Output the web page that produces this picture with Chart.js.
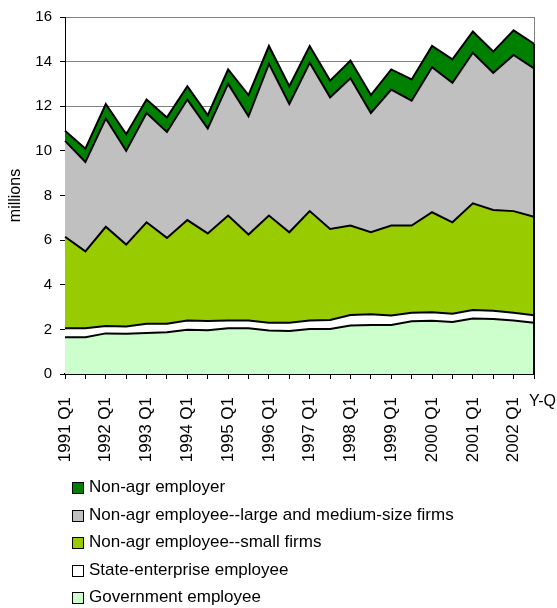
<!DOCTYPE html>
<html>
<head>
<meta charset="utf-8">
<script src="https://cdn.jsdelivr.net/npm/chart.js@4/dist/chart.umd.min.js"></script>
<style>
  body { margin: 0; background: #fff; }
  #wrap { position: relative; width: 557px; height: 608px; }
  #legend { position: absolute; left: 72px; top: 0; font: 17px "Liberation Sans", Arial, sans-serif; color: #000; }
  .item { position: absolute; left: 0; white-space: nowrap; line-height: 20px; height: 20px; }
  .box { position: absolute; left: 0; top: 4px; width: 10px; height: 10px; border: 1px solid #000; }
  .txt { position: absolute; left: 17px; top: -1px; }
</style>
</head>
<body>
<div id="wrap">
  <canvas id="grafico" width="557" height="608"></canvas>
  <div id="legend"></div>
</div>
<script>
// semi-annual survey rounds, 1991 Q1 .. 2002 Q3
const periodos = [];
for (let y = 1991; y <= 2002; y++) {
    periodos.push(y + ' Q1');
    periodos.push(y + ' Q3');
}

// millions of workers, stacked from the bottom up
const gobierno = [1.65, 1.65, 1.82, 1.80, 1.84, 1.87, 1.98, 1.96, 2.05, 2.05, 1.95, 1.93, 2.02, 2.02, 2.17, 2.20, 2.20, 2.36, 2.39, 2.33, 2.49, 2.47, 2.40, 2.30];
const empresaEstatal = [0.40, 0.40, 0.33, 0.33, 0.41, 0.38, 0.42, 0.42, 0.35, 0.35, 0.35, 0.37, 0.38, 0.40, 0.47, 0.48, 0.42, 0.39, 0.38, 0.37, 0.38, 0.37, 0.35, 0.33];
const firmasPequenas = [4.10, 3.45, 4.45, 3.67, 4.55, 3.85, 4.50, 3.92, 4.70, 3.85, 4.80, 4.05, 4.90, 4.08, 4.01, 3.67, 4.03, 3.90, 4.48, 4.10, 4.78, 4.51, 4.55, 4.42];
const firmasGrandes = [4.30, 4.00, 4.85, 4.20, 4.90, 4.75, 5.40, 4.70, 5.90, 5.30, 6.80, 5.75, 6.65, 5.90, 6.60, 5.35, 6.10, 5.60, 6.50, 6.25, 6.75, 6.15, 7.00, 6.65];
const empleadores = [0.45, 0.60, 0.65, 0.75, 0.60, 0.65, 0.60, 0.60, 0.65, 0.95, 0.80, 0.80, 0.75, 0.75, 0.80, 0.80, 0.90, 0.95, 0.95, 1.05, 0.95, 0.95, 1.10, 1.10];

const nombres = [
    'Government employee',
    'State-enterprise employee',
    'Non-agr employee--small firms',
    'Non-agr employee--large and medium-size firms',
    'Non-agr employer'
];
const colores = ['#CCFFCC', '#FFFFFF', '#99CC00', '#C0C0C0', '#008000'];
const series = [gobierno, empresaEstatal, firmasPequenas, firmasGrandes, empleadores];

const tituloY = 'millions';
const tituloX = 'Y-Q';
const fuente = '"Liberation Sans", Arial, sans-serif';

Chart.defaults.color = '#000';
Chart.defaults.font.family = fuente;

// right edge of the plot: grey above the stack, black beside it, plus the x axis name
const bordeDerecho = {
    id: 'bordeDerecho',
    afterDatasetsDraw(chart) {
        const ctx = chart.ctx;
        const area = chart.chartArea;
        const ultimo = chart.getDatasetMeta(series.length - 1).data;
        const yTope = ultimo[ultimo.length - 1].y;
        ctx.save();
        ctx.strokeStyle = '#808080';
        ctx.lineWidth = 1;
        ctx.beginPath();
        ctx.moveTo(area.right + 0.5, area.top);
        ctx.lineTo(area.right + 0.5, yTope);
        ctx.stroke();
        ctx.strokeStyle = '#000';
        ctx.lineWidth = 2;
        ctx.beginPath();
        ctx.moveTo(area.right, yTope);
        ctx.lineTo(area.right, area.bottom);
        ctx.stroke();
        ctx.fillStyle = '#000';
        ctx.font = '16px ' + fuente;
        ctx.textAlign = 'left';
        ctx.textBaseline = 'middle';
        ctx.fillText(tituloX, area.right - 5, area.bottom + 28);
        ctx.restore();
    }
};

const datasets = series.map((valores, i) => ({
    label: nombres[i],
    data: valores,
    backgroundColor: colores[i],
    borderColor: '#000',
    borderWidth: 2,
    borderJoinStyle: 'miter',
    pointRadius: 0,
    pointHoverRadius: 0,
    tension: 0,
    fill: i === 0 ? 'origin' : '-1'
}));

new Chart(document.getElementById('grafico'), {
    type: 'line',
    data: { labels: periodos, datasets: datasets },
    plugins: [bordeDerecho],
    options: {
        responsive: false,
        animation: false,
        layout: { padding: { top: 17, right: 23, left: 0, bottom: 134 } },
        plugins: {
            legend: { display: false },
            tooltip: { enabled: false }
        },
        scales: {
            x: {
                offset: false,
                grid: { drawOnChartArea: false, drawTicks: true, tickLength: 5, tickColor: '#000' },
                border: { color: '#000', width: 2 },
                ticks: {
                    autoSkip: false,
                    minRotation: 90,
                    maxRotation: 90,
                    padding: 18,
                    font: { size: 17 },
                    callback: function (v, i) { return i % 2 === 0 ? this.getLabelForValue(v) : ''; }
                },
                afterFit: s => {
                    s.height = 100;
                    s.paddingLeft = 0;
                    s.paddingRight = 0;
                }
            },
            y: {
                stacked: true,
                min: 0,
                max: 16,
                ticks: { stepSize: 2, padding: 8, font: { size: 15 } },
                grid: { color: '#808080', tickLength: 5, tickColor: '#000' },
                border: { color: '#000', width: 1 },
                title: { display: true, text: tituloY, font: { size: 16 }, padding: { top: 6, bottom: 0 } },
                afterFit: s => { s.width = 65; }
            }
        }
    }
});

// legend, top series first
const leyenda = document.getElementById('legend');
const filas = [488, 515.5, 543, 570.5, 598];
for (let i = series.length - 1, f = 0; i >= 0; i--, f++) {
    const item = document.createElement('div');
    item.className = 'item';
    item.style.top = (filas[f] - 10) + 'px';
    item.innerHTML = '<span class="box" style="background:' + colores[i] + '"></span><span class="txt">' + nombres[i] + '</span>';
    leyenda.appendChild(item);
}
</script>
</body>
</html>
